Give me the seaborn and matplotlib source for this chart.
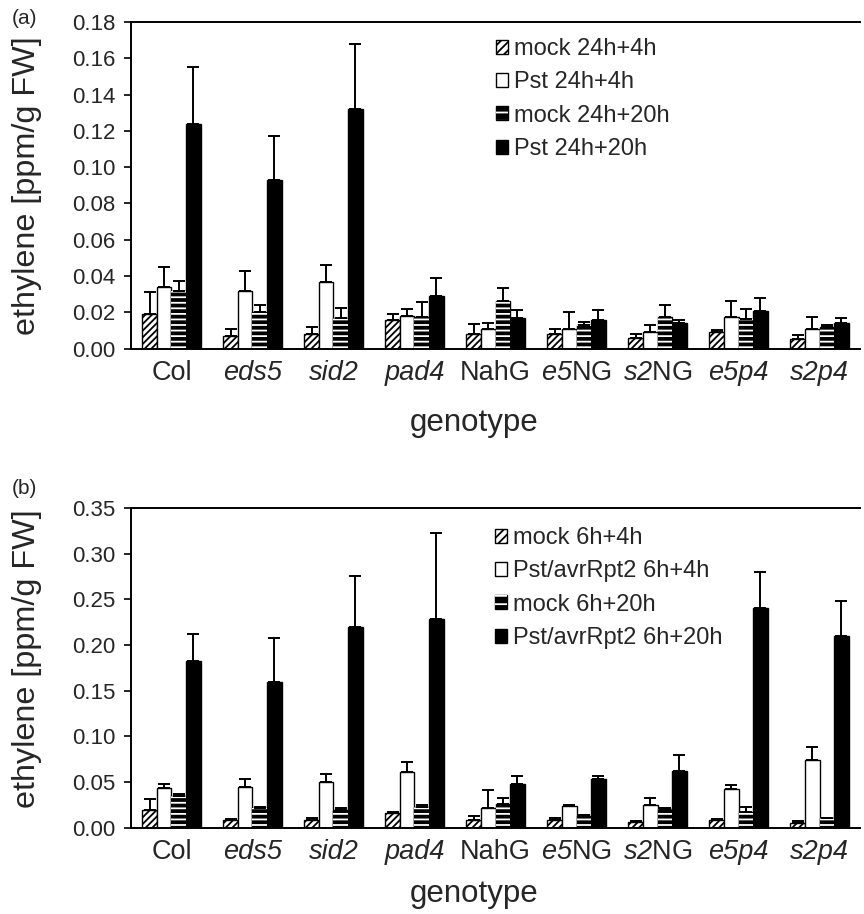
import numpy as np
import pandas as pd
import matplotlib
matplotlib.use("Agg")
import matplotlib.pyplot as plt
import matplotlib.transforms as mtransforms
from matplotlib.patches import Patch, Rectangle
import seaborn as sns

# ---------------- data ----------------
genotypes = ["Col", "eds5", "sid2", "pad4", "NahG", "e5NG", "s2NG", "e5p4", "s2p4"]
genotype_labels = ["Col", "eds5", "sid2", "pad4", "NahG",
                   r"$\mathrm{e5}$NG", r"$\mathrm{s2}$NG", "e5p4", "s2p4"]
label_italic = [False, True, True, True, False, False, False, True, True]

series_a = ["mock 24h+4h", "Pst 24h+4h", "mock 24h+20h", "Pst 24h+20h"]
mock4_a = [0.019, 0.007, 0.008, 0.016, 0.008, 0.008, 0.006, 0.009, 0.0055]
mock4_a_err = [0.012, 0.004, 0.004, 0.003, 0.0055, 0.003, 0.002, 0.001, 0.002]
pst4_a = [0.034, 0.032, 0.0365, 0.018, 0.011, 0.011, 0.009, 0.0175, 0.011]
pst4_a_err = [0.011, 0.011, 0.0095, 0.004, 0.003, 0.009, 0.004, 0.009, 0.0066]
mock20_a = [0.032, 0.020, 0.017, 0.0175, 0.026, 0.013, 0.0175, 0.0165, 0.012]
mock20_a_err = [0.005, 0.004, 0.0055, 0.008, 0.0076, 0.0016, 0.0065, 0.0055, 0.001]
pst20_a = [0.124, 0.093, 0.132, 0.029, 0.0167, 0.016, 0.014, 0.0207, 0.014]
pst20_a_err = [0.031, 0.024, 0.036, 0.010, 0.0046, 0.0055, 0.002, 0.007, 0.003]

series_b = ["mock 6h+4h", "Pst/avrRpt2 6h+4h", "mock 6h+20h", "Pst/avrRpt2 6h+20h"]
mock4_b = [0.019, 0.008, 0.008, 0.016, 0.008, 0.008, 0.006, 0.008, 0.005]
mock4_b_err = [0.012, 0.001, 0.003, 0.001, 0.005, 0.003, 0.001, 0.001, 0.002]
pst4_b = [0.043, 0.044, 0.050, 0.061, 0.022, 0.0237, 0.025, 0.042, 0.074]
pst4_b_err = [0.005, 0.009, 0.009, 0.011, 0.019, 0.001, 0.007, 0.005, 0.014]
mock20_b = [0.035, 0.021, 0.019, 0.023, 0.026, 0.013, 0.020, 0.017, 0.010]
mock20_b_err = [0.002, 0.002, 0.002, 0.002, 0.0065, 0.0005, 0.002, 0.006, 0.001]
pst20_b = [0.182, 0.159, 0.220, 0.229, 0.0475, 0.053, 0.0625, 0.240, 0.210]
pst20_b_err = [0.030, 0.049, 0.055, 0.094, 0.009, 0.004, 0.017, 0.040, 0.038]

yticks_a = [0.00, 0.02, 0.04, 0.06, 0.08, 0.10, 0.12, 0.14, 0.16, 0.18]
yticks_b = [0.00, 0.05, 0.10, 0.15, 0.20, 0.25, 0.30, 0.35]

# ---------------- style ----------------
sns.set_theme(style="white")
FONT = "Liberation Sans"
plt.rcParams["font.family"] = [FONT, "DejaVu Sans"]
plt.rcParams["mathtext.fontset"] = "custom"
plt.rcParams["mathtext.rm"] = FONT + ":italic"
plt.rcParams["mathtext.it"] = FONT + ":italic"
plt.rcParams["hatch.linewidth"] = 1.3

face_colors = ["white", "white", "black", "black"]
hatches = ["/////", None, "---", None]

fig = plt.figure(figsize=(8.64, 9.14), dpi=100)
ax_a = fig.add_axes([0.1516, 0.6186, 0.8438, 0.3573])
ax_b = fig.add_axes([0.1516, 0.0945, 0.8438, 0.3497])


def build_df(series, vals):
    rows = []
    for s, v in zip(series, vals):
        for g, x in zip(genotypes, v):
            rows.append({"genotype": g, "treatment": s, "value": x})
    return pd.DataFrame(rows)


def draw_panel(ax, series, vals, errs, yticks, ymax, legend_anchor, ylab_y, xlab_y):
    df = build_df(series, vals)
    sns.barplot(data=df, x="genotype", y="value", hue="treatment", order=genotypes,
                hue_order=series, palette=dict(zip(series, face_colors)),
                errorbar=None, width=0.72, gap=0, edgecolor="black", linewidth=1.0,
                saturation=1, ax=ax, legend=False)
    bar_containers = list(ax.containers)
    for i, cont in enumerate(bar_containers):
        for bar in cont.patches:
            bar.set_facecolor(face_colors[i])
            bar.set_edgecolor("black")
            if hatches[i] and face_colors[i] == "white":
                bar.set_hatch(hatches[i])
            elif hatches[i]:
                ov = Rectangle(bar.get_xy(), bar.get_width(), bar.get_height(),
                               facecolor="none", edgecolor="white", linewidth=0,
                               hatch=hatches[i], zorder=bar.get_zorder() + 0.1)
                ax.add_patch(ov)
        xs = [b.get_x() + b.get_width() / 2 for b in cont.patches]
        ax.errorbar(xs, vals[i], yerr=[np.zeros(len(errs[i])), errs[i]], fmt="none",
                    ecolor="black", elinewidth=1.4, capsize=4, capthick=1.4, zorder=5)

    ax.set_ylim(0, ymax)
    ax.set_xlim(-0.5, len(genotypes) - 0.5)
    ax.set_yticks(yticks)
    ax.set_yticklabels([f"{t:.2f}" for t in yticks], fontsize=16)
    ax.set_xticks(range(len(genotypes)))
    ax.set_xticklabels(genotype_labels, fontsize=19.5)
    shift = mtransforms.ScaledTranslation(-5 / 100, 0, fig.dpi_scale_trans)
    for lab, it in zip(ax.get_xticklabels(), label_italic):
        if it:
            lab.set_fontstyle("italic")
        lab.set_transform(lab.get_transform() + shift)
    ax.set_xticks(np.arange(len(genotypes) + 1) - 0.5, minor=True)
    ax.tick_params(axis="x", which="major", length=0, pad=8)
    ax.tick_params(axis="x", which="minor", length=5, width=1.2, direction="out", color="black")
    ax.tick_params(axis="y", which="major", length=5, width=1.2, direction="out", color="black", left=True, pad=6)
    for s in ["left", "bottom", "top"]:
        ax.spines[s].set_visible(True)
        ax.spines[s].set_color("black")
        ax.spines[s].set_linewidth(1.4)
    ax.spines["right"].set_visible(False)
    ax.set_xlabel("genotype", fontsize=22.5)
    ax.xaxis.set_label_coords(0.47, xlab_y)
    ax.set_ylabel("ethylene [ppm/g FW]", fontsize=23.3)
    ax.yaxis.set_label_coords(-0.1225, ylab_y)

    handles = [
        Patch(facecolor="white", edgecolor="black", hatch="////", linewidth=1.0),
        Patch(facecolor="white", edgecolor="black", linewidth=1.0),
        (Patch(facecolor="black", edgecolor="black", linewidth=1.0),
         Patch(facecolor="none", edgecolor="white", hatch="--", linewidth=0)),
        Patch(facecolor="black", edgecolor="black", linewidth=1.0),
    ]
    ax.legend(handles, series, loc="upper left", bbox_to_anchor=legend_anchor,
              bbox_transform=fig.transFigure, frameon=False, fontsize=17,
              handlelength=0.52, handleheight=0.52, handletextpad=0.25,
              labelspacing=0.48, borderpad=0, borderaxespad=0)


draw_panel(ax_a, series_a, [mock4_a, pst4_a, mock20_a, pst20_a],
           [mock4_a_err, pst4_a_err, mock20_a_err, pst20_a_err], yticks_a, 0.18,
           (0.574, 1 - 38 / 914), 0.5, -0.182)
draw_panel(ax_b, series_b, [mock4_b, pst4_b, mock20_b, pst20_b],
           [mock4_b_err, pst4_b_err, mock20_b_err, pst20_b_err], yticks_b, 0.35,
           (0.573, 1 - 527 / 914), 0.527, -0.162)

fig.text(12 / 864, 1 - 18 / 914, "(a)", fontsize=15, va="center", ha="left")
fig.text(12 / 864, 1 - 488 / 914, "(b)", fontsize=15, va="center", ha="left")

fig.savefig("out.png", dpi=100)
